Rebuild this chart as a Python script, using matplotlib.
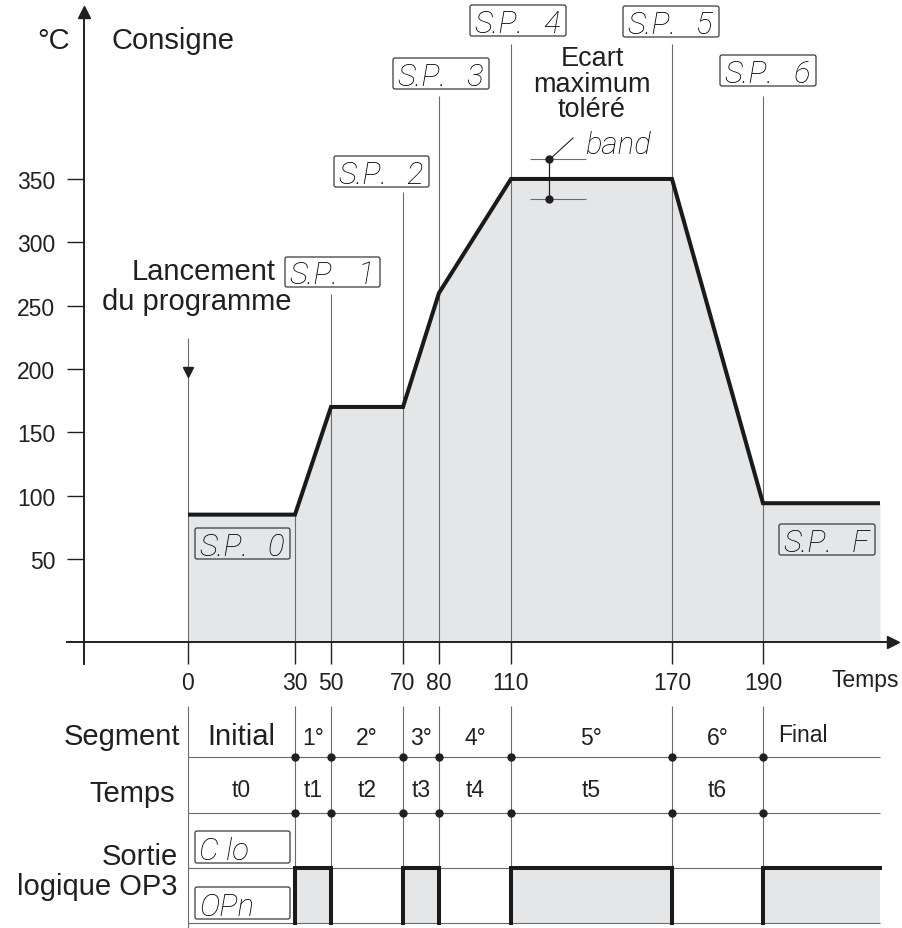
import numpy as np
import matplotlib
matplotlib.use("Agg")
import matplotlib.pyplot as plt
import matplotlib.transforms as mtransforms
from matplotlib.patches import FancyBboxPatch

plt.rcParams['font.family'] = ['Liberation Sans', 'DejaVu Sans']

# Programme de consigne : temps (min) et température (°C)
temps = [0, 30, 50, 70, 80, 110, 170, 190, 225]
consigne = [85, 85, 170, 170, 260, 350, 350, 94, 94]

temps_ticks = [0, 30, 50, 70, 80, 110, 170, 190]
temp_ticks = [50, 100, 150, 200, 250, 300, 350]

segments = ['Initial', '1°', '2°', '3°', '4°', '5°', '6°']
durees = ['t0', 't1', 't2', 't3', 't4', 't5', 't6']
sortie_op3 = [0, 1, 0, 1, 0, 1, 0, 1]   # 1 = contact fermé
bande = 16                              # écart maximum toléré (°C)
sp_labels = ['0', '1', '2', '3', '4', '5', '6', 'F']

# --- mise en page (pixels) ---
W, H = 903, 929
t_knots = [-70, 0, 30, 50, 70, 80, 110, 170, 190, 225, 240]
x_knots = [0, 188, 295, 331, 403, 439, 511, 672, 763, 880, 903]
Y_ZERO, PX_PER_DEG = 623.3, 1.2667
Y_AXE = 643


def c_of(ypx):
    return (Y_ZERO - ypx) / PX_PER_DEG


def fwd(t):
    return np.interp(t, t_knots, x_knots)


def inv(x):
    return np.interp(x, x_knots, t_knots)


ink = '#231f20'
gris = '#e5e6e8'
trait = '#6b6b6b'

fig = plt.figure(figsize=(W / 100, H / 100), dpi=100)
ax = fig.add_axes([0, 0, 1, 1])
ax.set_xscale('function', functions=(fwd, inv))
ax.set_xlim(-70, 240)
ax.set_ylim(c_of(H), c_of(0))

lay = fig.add_axes([0, 0, 1, 1])
lay.set_xlim(0, W)
lay.set_ylim(H, 0)
lay.axis('off')
lay.patch.set_visible(False)

blend = mtransforms.blended_transform_factory(ax.transData, lay.transData)

# courbe de consigne
ax.fill_between(temps, consigne, c_of(Y_AXE), color=gris, lw=0, zorder=1)
guide_tops = [339, 515, 295, 193, 97, 45, 45, 97]
ax.vlines(temps_ticks, guide_tops, Y_AXE, transform=blend, colors=trait, lw=0.8, zorder=2)
ax.plot([0], [373], marker='v', ms=7, color=ink, transform=blend, zorder=3)
ax.plot(temps, consigne, color='#1a1a1a', lw=2.9, solid_joinstyle='miter',
        solid_capstyle='butt', zorder=4)

# bande de tolérance
bx = 124
ax.hlines([350 + bande, 350 - bande], 117, 138, colors=trait, lw=0.8, zorder=3)
ax.vlines(bx, 350 - bande, 350 + bande, colors=ink, lw=0.9, zorder=3)
ax.plot([bx, bx], [350 - bande, 350 + bande], 'o', color=ink, ms=5, zorder=5)

# axes
for s in ['top', 'right']:
    ax.spines[s].set_visible(False)
ax.spines['left'].set_position(('axes', 84 / W))
ax.spines['bottom'].set_position(('data', c_of(Y_AXE)))
ax.spines['left'].set_bounds(c_of(665), c_of(16))
ax.spines['bottom'].set_bounds(inv(67), inv(890))
for s in ['left', 'bottom']:
    ax.spines[s].set_linewidth(1.4)
    ax.spines[s].set_color(ink)
ax.plot([0.093], [c_of(12.5)], marker='^', ms=9, color=ink, clip_on=False,
        transform=mtransforms.blended_transform_factory(ax.transAxes, ax.transData))
ax.plot([inv(893.5)], [c_of(Y_AXE)], marker='>', ms=9, color=ink, clip_on=False)

ax.set_xticks(temps_ticks)
ax.set_xticklabels([str(t) for t in temps_ticks])
ax.set_yticks(temp_ticks)
ax.set_yticklabels([str(v) for v in temp_ticks])
ax.minorticks_off()
ax.tick_params(axis='x', direction='out', length=15.8, width=1.0, pad=5,
               labelsize=16.5, colors=ink)
ax.tick_params(axis='y', direction='out', length=12.2, width=1.0, pad=8.6,
               labelsize=16.5, colors=ink)

# tableau des segments
rows = [758, 814, 869, 924]
ax.hlines(rows, 0, 225, transform=blend, colors=trait, lw=0.8, zorder=2)
ax.vlines(temps_ticks[1:], 707, 924, transform=blend, colors=trait, lw=0.8, zorder=2)
ax.vlines(0, 707, H, transform=blend, colors=trait, lw=0.8, zorder=2)
for r in rows[:2]:
    ax.plot(temps_ticks[1:], [r] * 7, 'o', color=ink, ms=5, transform=blend, zorder=5)

for i, (seg, d) in enumerate(zip(segments, durees)):
    xm = (temps[i] + temps[i + 1]) / 2
    ax.text(xm, 745, seg, transform=blend, ha='center', va='baseline',
            fontsize=21 if i == 0 else 16.5, color=ink)
    ax.text(xm, 797, d, transform=blend, ha='center', va='baseline', fontsize=16.5, color=ink)
ax.text(194.5, 742, 'Final', transform=blend, ha='left', va='baseline', fontsize=16.5, color=ink)

# sortie logique OP3
for i, etat in enumerate(sortie_op3):
    if not etat:
        continue
    a, b = temps[i], temps[i + 1]
    ax.fill_between([a, b], [869, 869], [924, 924], transform=blend, color=gris, lw=0, zorder=1)
    if i < len(sortie_op3) - 1:
        xs, ys = [a, a, b, b], [924, 869, 869, 924]
    else:
        xs, ys = [a, a, b], [924, 869, 869]
    ax.plot(xs, ys, color='#1a1a1a', lw=2.9, solid_joinstyle='miter', transform=blend, zorder=4)

# textes
big = 21
lay.text(37, 49, '°C', fontsize=big, color=ink, va='baseline')
lay.text(112, 49, 'Consigne', fontsize=big, color=ink, va='baseline')
lay.text(276, 280, 'Lancement', fontsize=big, color=ink, ha='right', va='baseline')
lay.text(102, 310, 'du programme', fontsize=big, color=ink, ha='left', va='baseline')
for s, yb in zip(['Ecart', 'maximum', 'toléré'], [66, 92, 117]):
    lay.text(592, yb, s, fontsize=19.5, color=ink, ha='center', va='baseline')
lay.text(832, 687, 'Temps', fontsize=16.5, color=ink, va='baseline')
lay.text(180, 745, 'Segment', fontsize=big, color=ink, ha='right', va='baseline')
lay.text(175, 802, 'Temps', fontsize=big, color=ink, ha='right', va='baseline')
lay.text(178, 865, 'Sortie', fontsize=big, color=ink, ha='right', va='baseline')
lay.text(178, 895, 'logique OP3', fontsize=big, color=ink, ha='right', va='baseline')

# afficheurs 7 segments
seg7 = dict(family=['Roboto', 'DejaVu Sans'], style='italic', weight='light',
            fontsize=22.5, color='#000000', va='baseline')


def afficheur(box, gauche, droite=None):
    x0, y0, x1, y1 = box
    lay.add_patch(FancyBboxPatch((x0, y0), x1 - x0, y1 - y0,
                                 boxstyle='round,pad=0,rounding_size=2',
                                 fc='none', ec='#3a3a3a', lw=0.9))
    lay.text(x0 + 4, y1 - 4, gauche, ha='left', **seg7)
    if droite:
        lay.text(x1 - 6, y1 - 4, droite, ha='right', **seg7)


sp_boxes = [(195, 529, 290, 560), (285, 258, 380, 288), (334, 157, 429, 188),
            (393, 59, 489, 90), (470, 6, 566, 37), (623, 7, 719, 38),
            (720, 56, 816, 87), (779, 525, 875, 556)]
for lab, box in zip(sp_labels, sp_boxes):
    afficheur(box, 'S.P.', lab)
afficheur((195, 832, 290, 864), 'C lo')
afficheur((195, 888, 290, 920), 'OPn')

lay.text(585, 154, 'band', ha='left', **seg7)
lay.plot([549, 573], [161, 139], color=ink, lw=0.8)

fig.savefig('out.png', dpi=100)
